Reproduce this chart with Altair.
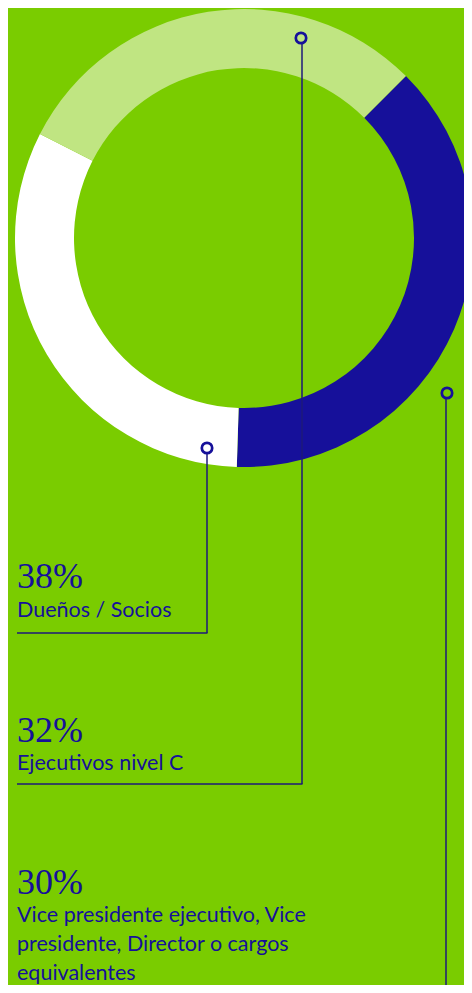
import math
import altair as alt
import pandas as pd

# ---- data ----
categories = ["Dueños / Socios", "Ejecutivos nivel C", "Vice presidente ejecutivo"]
values = [38, 32, 30]
slice_colors = ["#16109A", "#FFFFFF", "#C0E582"]
descriptions = [
    "Dueños / Socios",
    "Ejecutivos nivel C",
    "Vice presidente ejecutivo, Vice\npresidente, Director o cargos\nequivalentes",
]

BG = "#7ACC00"
NAVY = "#16109A"
LINE = "#1E1A7A"

pie_df = pd.DataFrame({"category": categories, "value": values, "order": [0, 1, 2]})
label_df = pd.DataFrame({
    "category": categories,
    "pct": [f"{v}%" for v in values],
    "desc": descriptions,
})
one = pd.DataFrame({"i": [0]})

start = math.radians(45)

arc = alt.Chart(pie_df).mark_arc(innerRadius=170, outerRadius=229).encode(
    theta=alt.Theta("value:Q", stack=True,
                    scale=alt.Scale(range=[start, start + 2 * math.pi])),
    color=alt.Color("category:N",
                    scale=alt.Scale(domain=categories, range=slice_colors),
                    legend=None),
    order=alt.Order("order:Q"),
    x=alt.value(236), y=alt.value(230),
)

layers = [arc]

def rule(x, y, x2=None, y2=None, w=1.5):
    enc = dict(x=alt.value(x), y=alt.value(y))
    if x2 is not None:
        enc["x2"] = alt.value(x2)
    if y2 is not None:
        enc["y2"] = alt.value(y2)
    return alt.Chart(one).mark_rule(color=LINE, strokeWidth=w).encode(**enc)

# leader lines
layers += [
    rule(199, 445, y2=625), rule(9, 625, x2=199.5),
    rule(294, 35, y2=776), rule(9, 776, x2=294.5),
    rule(438, 390, y2=977),
]

# markers
for mx, my in [(199, 440), (293, 30), (439, 385)]:
    layers.append(
        alt.Chart(one).mark_point(shape="circle", size=108, filled=False,
                                  stroke=NAVY, strokeWidth=2.7, opacity=1)
        .encode(x=alt.value(mx), y=alt.value(my))
    )

# labels
label_pos = [(580, 609), (734, 762), (886, 914)]
for cat, (yp, yd) in zip(categories, label_pos):
    base = alt.Chart(label_df).transform_filter(alt.datum.category == cat)
    layers.append(
        base.mark_text(align="left", baseline="alphabetic", font="Liberation Serif",
                       fontSize=36, color=NAVY)
        .encode(text="pct:N", x=alt.value(9), y=alt.value(yp))
    )
    layers.append(
        base.mark_text(align="left", baseline="alphabetic", font="Lato",
                       fontSize=21.5, color=NAVY, lineBreak="\n", lineHeight=29)
        .encode(text="desc:N", x=alt.value(9), y=alt.value(yd))
    )

chart = alt.layer(*layers).properties(
    width=456, height=977,
    autosize=alt.AutoSizeParams(type="none"),
    padding=0,
    background=BG,
).configure_view(stroke=None)

chart.save("out.html", embed_options={"renderer": "svg", "actions": False})
